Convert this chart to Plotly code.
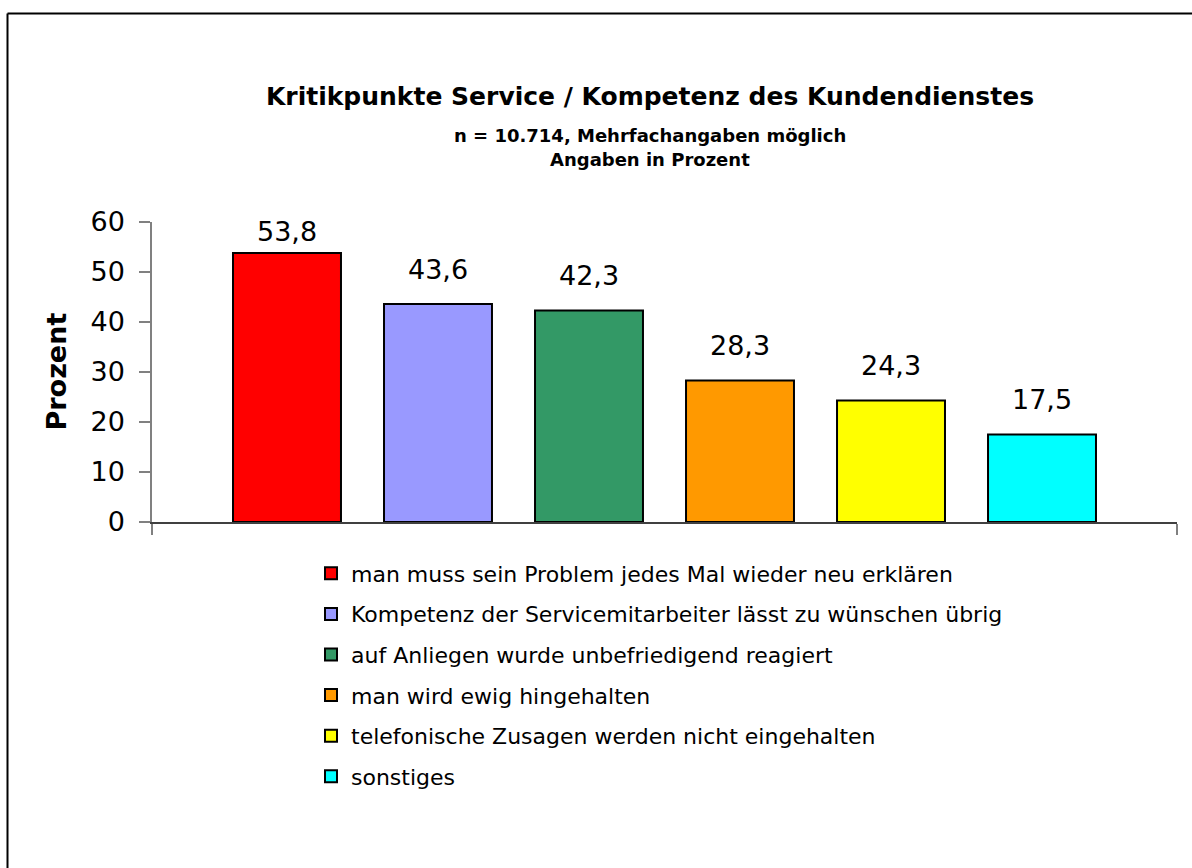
import plotly.graph_objects as go

# ---- data ----
categories = [
    "man muss sein Problem jedes Mal wieder neu erklären",
    "Kompetenz der Servicemitarbeiter lässt zu wünschen übrig",
    "auf Anliegen wurde unbefriedigend reagiert",
    "man wird ewig hingehalten",
    "telefonische Zusagen werden nicht eingehalten",
    "sonstiges",
]
values = [53.8, 43.6, 42.3, 28.3, 24.3, 17.5]
value_labels = ["53,8", "43,6", "42,3", "28,3", "24,3", "17,5"]
colors = ["#FF0000", "#9999FF", "#339966", "#FF9900", "#FFFF00", "#00FFFF"]
y_ticks = [0, 10, 20, 30, 40, 50, 60]

title_text = "Kritikpunkte Service / Kompetenz des Kundendienstes"
subtitle_1 = "n = 10.714, Mehrfachangaben möglich"
subtitle_2 = "Angaben in Prozent"
y_title = "Prozent"

# ---- style ----
FONT = "DejaVu Sans"
W, H = 1192, 868
ML, MR, MT, MB = 152, 15, 222, 346
PW, PH = W - ML - MR, H - MT - MB
X_PAD = 0.894
BAR_W = 0.715
LABEL_OFFSET = 7.0
LABEL_MAX = 58.1
TITLE_CX = 650


def px_to_paper_x(px):
    return (px - ML) / PW


def px_to_paper_y(py):
    return (H - MB - py) / PH


fig = go.Figure()
for i, (cat, v, c) in enumerate(zip(categories, values, colors)):
    fig.add_trace(go.Bar(
        x=[i], y=[v], name=cat, width=BAR_W,
        marker=dict(color=c, line=dict(color="black", width=2)),
        legendgroup=f"g{i}",
        hovertemplate=cat + ": %{y}<extra></extra>",
    ))

annotations = []
for i, (v, lab) in enumerate(zip(values, value_labels)):
    annotations.append(dict(
        x=i, y=min(v + LABEL_OFFSET, LABEL_MAX), xref="x", yref="y",
        text=lab, showarrow=False, xanchor="center", yanchor="middle",
        font=dict(family=FONT, size=27, color="black"),
    ))

annotations += [
    dict(x=px_to_paper_x(TITLE_CX), y=px_to_paper_y(135), xref="paper", yref="paper",
         text="<b>" + subtitle_1 + "</b>", showarrow=False,
         xanchor="center", yanchor="middle",
         font=dict(family=FONT, size=18, color="black")),
    dict(x=px_to_paper_x(TITLE_CX), y=px_to_paper_y(159), xref="paper", yref="paper",
         text="<b>" + subtitle_2 + "</b>", showarrow=False,
         xanchor="center", yanchor="middle",
         font=dict(family=FONT, size=18, color="black")),
    dict(x=px_to_paper_x(55.5), y=px_to_paper_y(372), xref="paper", yref="paper",
         text="<b>" + y_title + "</b>", showarrow=False, textangle=-90,
         xanchor="center", yanchor="middle",
         font=dict(family=FONT, size=27, color="black")),
]

shapes = [
    # chart border (left and top visible)
    dict(type="line", xref="paper", yref="paper",
         x0=px_to_paper_x(7.5), x1=px_to_paper_x(7.5),
         y0=px_to_paper_y(13.5), y1=px_to_paper_y(880),
         line=dict(color="black", width=2)),
    dict(type="line", xref="paper", yref="paper",
         x0=px_to_paper_x(7.5), x1=px_to_paper_x(1200),
         y0=px_to_paper_y(13.5), y1=px_to_paper_y(13.5),
         line=dict(color="black", width=2)),
]

fig.update_layout(
    width=W, height=H,
    margin=dict(l=ML, r=MR, t=MT, b=MB, pad=0),
    paper_bgcolor="white", plot_bgcolor="white",
    barmode="overlay",
    showlegend=True,
    title=dict(text="<b>" + title_text + "</b>",
               x=TITLE_CX / W, xanchor="center", y=1 - 96 / H, yanchor="middle",
               font=dict(family=FONT, size=25, color="black")),
    legend=dict(
        x=px_to_paper_x(311), y=px_to_paper_y(552.5), xanchor="left", yanchor="top",
        font=dict(family=FONT, size=22, color="black"),
        traceorder="grouped", tracegroupgap=9,
        bgcolor="rgba(0,0,0,0)", borderwidth=0,
        itemclick=False, itemdoubleclick=False,
    ),
    xaxis=dict(
        range=[-X_PAD, len(categories) - 1 + X_PAD],
        showgrid=False, zeroline=False,
        showline=True, linecolor="#404040", linewidth=1.5,
        ticks="outside", ticklen=11, tickcolor="#808080", tickwidth=1.5,
        tickmode="array", tickvals=[-X_PAD, len(categories) - 1 + X_PAD],
        showticklabels=False, fixedrange=True,
    ),
    yaxis=dict(
        range=[0, 60], tickmode="array", tickvals=y_ticks,
        showgrid=False, zeroline=False,
        showline=True, linecolor="#808080", linewidth=1.5,
        ticks="outside", ticklen=11, tickcolor="#808080", tickwidth=1.5,
        tickfont=dict(family=FONT, size=27, color="black"),
        ticklabelstandoff=9, fixedrange=True,
    ),
    annotations=annotations,
    shapes=shapes,
    font=dict(family=FONT, color="black"),
)

fig.write_html(
    "out.html",
    config={"displayModeBar": False},
    post_script="document.body.style.margin='0';document.body.style.overflow='hidden';",
)
